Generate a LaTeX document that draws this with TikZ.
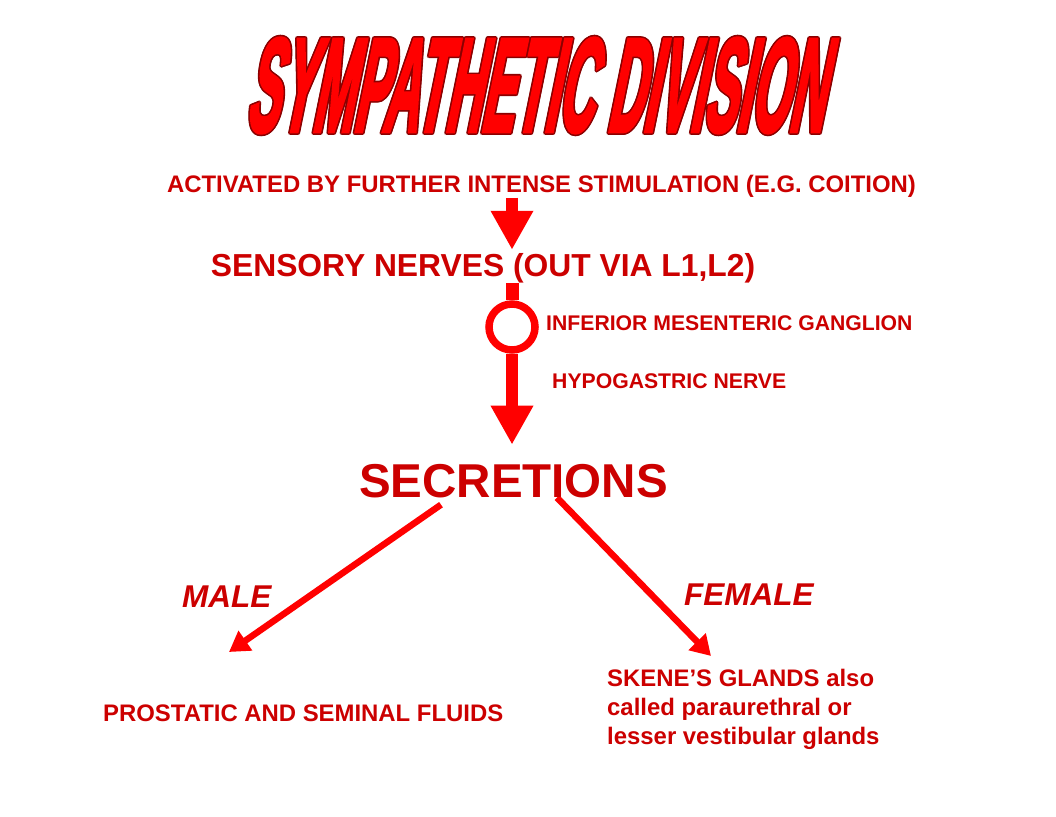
\documentclass[tikz,border=0pt]{standalone}
\usepackage{fontspec}
\usepackage{graphicx}
\setmainfont{Liberation Sans}
\newfontfamily\titlefont[BoldFeatures={FakeSlant=0.55,FakeBold=3}]{Liberation Sans}
\usetikzlibrary{arrows.meta,calc}
\definecolor{txtred}{HTML}{CC0000}
\definecolor{arrred}{HTML}{FF0000}
\definecolor{outred}{HTML}{8B0000}
\pgfdeclarelayer{behind}
\pgfsetlayers{behind,main}
\newcommand\mytitletext{\resizebox{578pt}{93pt}{\titlefont\bfseries SYMPATHETIC DIVISION}}
\begin{document}
\begin{tikzpicture}[x=1pt,y=-1pt,
  lbl/.style={text=txtred, inner sep=0pt},
  fatarrow/.style={draw=arrred, line width=12.5pt, -{Triangle[width=40pt,length=39pt]}},
  thinarrow/.style={draw=arrred, line width=6.5pt, -{Triangle[width=23pt,length=20pt]}},
  f24/.style={font=\fontsize{23.9}{29}\selectfont\bfseries},
  f21/.style={font=\fontsize{21.2}{25}\selectfont\bfseries}]
\useasboundingbox (0,0) rectangle (1056,816);
\begin{pgfonlayer}{behind}
\fill[white] (0,0) rectangle (1056,816);
\end{pgfonlayer}
% title with outline
\foreach \dx/\dy [count=\i] in {-1.6/0,1.6/0,0/-1.6,0/1.6,-1.1/-1.1,1.1/1.1,-1.1/1.1,1.1/-1.1}{
  \node[inner sep=0pt, text=outred] (tshadow\i) at (534+\dx,85.5+\dy) {\mytitletext};
}
\node[inner sep=0pt, text=arrred] (title) at (534,85.5) {\mytitletext};
% texts
\node[lbl, f24, anchor=base] (act) at (541.5,192.5) {ACTIVATED BY FURTHER INTENSE STIMULATION (E.G. COITION)};
\node[lbl, font=\fontsize{31.8}{36}\selectfont\bfseries, anchor=base] (sens) at (483,276) {SENSORY NERVES (OUT VIA L1,L2)};
\node[draw=arrred, line width=7.5pt, circle, minimum size=46pt, inner sep=0pt] (gang) at (512,327) {};
\node[lbl, f21, anchor=base west] (img) at (546,330.5) {INFERIOR MESENTERIC GANGLION};
\node[lbl, f21, anchor=base west] (hyp) at (552,388.5) {HYPOGASTRIC NERVE};
\node[lbl, font=\fontsize{47.5}{54}\selectfont\bfseries, anchor=base] (sec) at (513.5,497) {SECRETIONS};
\node[lbl, font=\fontsize{31.5}{36}\selectfont\bfseries\itshape, anchor=base west] (male) at (182,607) {MALE};
\node[lbl, font=\fontsize{31.5}{36}\selectfont\bfseries\itshape, anchor=base west] (female) at (684,605) {FEMALE};
\node[lbl, f24, anchor=base west] (pros) at (103,721.5) {PROSTATIC AND SEMINAL FLUIDS};
\node[lbl, f24, anchor=north west, align=left] (skene) at (607,669) {SKENE’S GLANDS also\\called paraurethral or\\lesser vestibular glands};
% connectors
\begin{pgfonlayer}{behind}
\draw[fatarrow, shorten >=3pt] (act.south -| gang.center) -- (sens.north -| gang.center);
\draw[draw=arrred, line width=13pt] (sens.south -| gang.center) -- (gang.north);
\draw[fatarrow, shorten >=19pt] (gang.south) -- (sec.north -| gang.center);
\coordinate (mend) at (229,652);
\coordinate (fend) at (711,656);
\draw[thinarrow] ($(sec.south)+(-72.5,7)$) -- (mend);
\draw[thinarrow] ($(sec.south)+(43.5,0)$) -- (fend);
\end{pgfonlayer}
\end{tikzpicture}
\end{document}
